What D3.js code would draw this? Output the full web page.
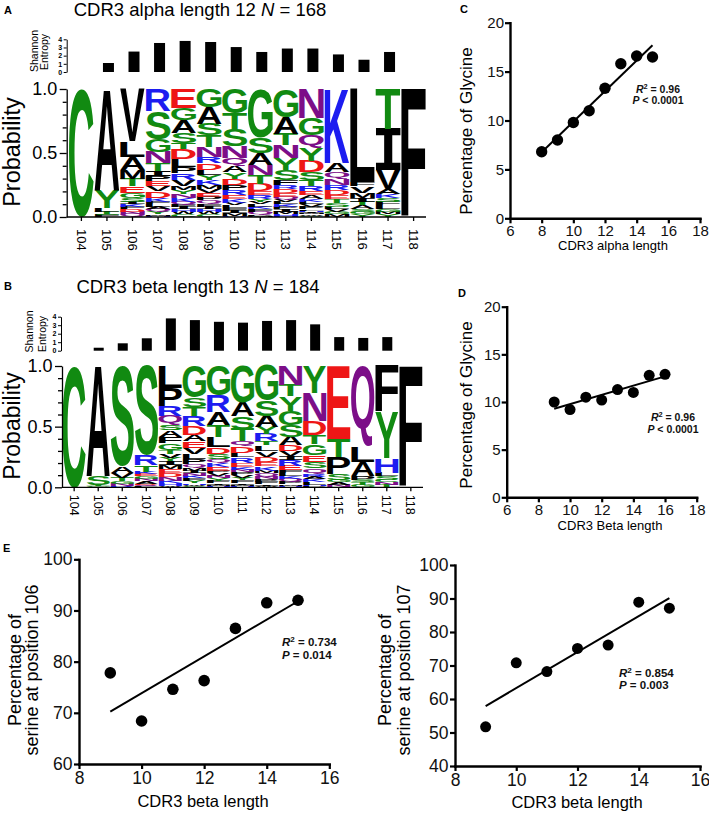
<!DOCTYPE html>
<html><head><meta charset="utf-8">
<script src="https://cdn.jsdelivr.net/npm/d3@7"></script>
<style>
body{margin:0;background:#fff}
svg{display:block}
text{font-family:'Liberation Sans',Arial,Helvetica,sans-serif}
</style>
</head><body>
<svg id="c" width="709" height="813"></svg>
<script>
// ---------------- DATA ----------------
const posA = ["104","105","106","107","108","109","110","112","113","114","115","116","117","118"];
const entropyA = [0, 1.1, 2.5, 3.55, 3.8, 3.67, 3.05, 2.45, 2.87, 2.87, 2.15, 1.5, 2.45, 0];
// letter stacks, listed top -> bottom : [amino acid, probability]
const logoA = [
  [["C",1]],
  [["A",.79],["Y",.14],["L",.03],["T",.015],["S",.01],["F",.015]],
  [["V",.41],["L",.12],["A",.10],["M",.07],["T",.06],["E",.05],["G",.04],["S",.03],["I",.02],["K",.02],["F",.02],["D",.02],["N",.02],["Q",.02]],
  [["R",.17],["S",.22],["G",.10],["N",.09],["T",.06],["I",.04],["P",.04],["E",.04],["V",.04],["D",.05],["K",.03],["F",.02],["L",.02],["A",.02],["Q",.02],["Y",.02],["M",.01],["H",.01]],
  [["E",.15],["G",.09],["A",.10],["S",.08],["T",.05],["D",.08],["L",.06],["P",.05],["R",.05],["V",.05],["M",.03],["Y",.03],["N",.03],["K",.03],["Q",.02],["F",.02],["I",.02],["H",.02],["W",.02],["C",.02]],
  [["G",.14],["A",.13],["S",.09],["T",.09],["N",.08],["R",.05],["D",.05],["L",.04],["Y",.04],["K",.04],["M",.03],["V",.03],["E",.03],["P",.03],["Q",.03],["F",.02],["I",.02],["H",.02],["W",.02],["C",.02]],
  [["G",.19],["T",.13],["S",.13],["N",.09],["Q",.06],["A",.05],["Y",.05],["D",.05],["P",.04],["R",.04],["E",.03],["K",.03],["V",.02],["L",.02],["F",.02],["I",.02],["M",.02],["H",.01]],
  [["G",.38],["S",.12],["A",.09],["N",.08],["T",.07],["D",.06],["E",.03],["R",.03],["Y",.02],["V",.02],["L",.02],["K",.02],["F",.02],["Q",.02],["P",.01],["M",.01]],
  [["G",.22],["A",.13],["T",.09],["N",.10],["Y",.09],["S",.08],["F",.04],["R",.03],["D",.03],["E",.03],["Q",.02],["V",.02],["L",.02],["K",.02],["P",.02],["I",.02],["M",.02],["H",.02]],
  [["N",.23],["G",.13],["Q",.10],["Y",.10],["D",.09],["S",.06],["T",.05],["R",.04],["E",.03],["A",.03],["K",.02],["L",.02],["V",.02],["P",.02],["F",.01],["H",.01],["I",.01],["M",.01],["W",.01],["C",.01]],
  [["K",.58],["A",.07],["Q",.05],["N",.05],["R",.04],["D",.04],["E",.03],["T",.03],["S",.03],["L",.02],["V",.02],["G",.02],["M",.02]],
  [["L",.73],["F",.03],["V",.05],["M",.04],["I",.03],["T",.03],["A",.03],["S",.02],["G",.02],["Y",.02]],
  [["T",.31],["I",.32],["V",.15],["A",.04],["K",.03],["S",.03],["F",.03],["L",.03],["G",.02],["M",.02],["Y",.02]],
  [["F",1]]
];

const posB = ["104","105","106","107","108","109","110","111","112","113","114","115","116","117","118"];
const entropyB = [0, 0.35, 0.87, 1.46, 3.8, 3.6, 3.4, 3.3, 3.5, 3.6, 3.1, 1.6, 1.5, 1.6, 0];
const logoB = [
  [["C",1]],
  [["A",.91],["S",.07],["T",.01],["G",.01]],
  [["S",.83],["A",.05],["V",.04],["T",.03],["G",.02],["N",.02],["R",.01]],
  [["S",.74],["R",.08],["T",.05],["K",.02],["E",.02],["G",.02],["N",.02],["A",.02],["D",.01],["Q",.01],["L",.01]],
  [["L",.17],["P",.14],["R",.08],["Q",.07],["S",.04],["A",.05],["F",.05],["G",.05],["T",.03],["V",.03],["Y",.03],["I",.03],["M",.03],["E",.03],["D",.03],["N",.03],["K",.02],["H",.02],["W",.01]],
  [["G",.25],["S",.07],["T",.07],["R",.08],["D",.07],["A",.05],["E",.05],["V",.05],["L",.04],["P",.04],["Q",.03],["M",.02],["I",.02],["N",.02],["K",.02],["F",.02],["Y",.02],["H",.01],["W",.01],["C",.01]],
  [["G",.23],["R",.13],["A",.10],["T",.09],["L",.08],["D",.05],["S",.04],["Q",.03],["K",.03],["E",.03],["P",.02],["V",.02],["N",.02],["Y",.02],["F",.02],["I",.01],["M",.01],["H",.01]],
  [["G",.27],["A",.10],["S",.09],["T",.09],["Q",.04],["D",.05],["L",.03],["R",.04],["E",.03],["K",.02],["N",.02],["P",.02],["V",.02],["Y",.02],["F",.02],["I",.01],["M",.01],["H",.01]],
  [["G",.25],["S",.11],["A",.08],["Y",.05],["R",.05],["T",.03],["L",.04],["V",.04],["D",.04],["E",.03],["K",.03],["M",.02],["Q",.02],["N",.02],["P",.02],["F",.02],["I",.01],["W",.01]],
  [["N",.13],["T",.08],["Y",.10],["G",.10],["S",.08],["A",.06],["D",.04],["V",.03],["I",.03],["R",.04],["E",.03],["F",.02],["L",.02],["K",.02],["Q",.02],["P",.02],["M",.01],["H",.01]],
  [["Y",.20],["N",.21],["D",.10],["T",.07],["G",.08],["E",.05],["S",.05],["Q",.04],["R",.02],["A",.02],["K",.02],["L",.02],["H",.01],["P",.01]],
  [["E",.60],["T",.15],["P",.14],["S",.05],["G",.02],["A",.02],["N",.02]],
  [["Q",.66],["L",.13],["A",.12],["P",.03],["S",.02],["T",.02],["G",.02]],
  [["F",.38],["Y",.38],["H",.12],["L",.03],["S",.03],["C",.02],["N",.02],["T",.02]],
  [["F",1]]
];

const lenC = [8, 9, 10, 11, 12, 13, 14, 15];
const glyC = [6.8, 8.0, 9.8, 11.0, 13.3, 15.8, 16.6, 16.5];
const lenD = [9, 10, 11, 12, 13, 14, 15, 16];
const glyD = [10.0, 9.2, 10.5, 10.2, 11.3, 11.0, 12.8, 12.9];
const lenE1 = [9, 10, 11, 12, 13, 14, 15];
const serE1 = [77.8, 68.4, 74.6, 76.3, 86.5, 91.5, 92.0];
const lenE2 = [9, 10, 11, 12, 13, 14, 15];
const serE2 = [51.7, 70.8, 68.2, 75.1, 76.1, 88.9, 87.1];

const ticksCDx = [6, 8, 10, 12, 14, 16, 18];
const ticksCDy = [0, 5, 10, 15, 20];
const ticksEx = [8, 10, 12, 14, 16];
const ticksE1y = [60, 70, 80, 90, 100];
const ticksE2y = [40, 50, 60, 70, 80, 90, 100];
const statsC = ["0.96", "<", "0.0001"];
const statsD = ["0.96", "<", "0.0001"];
const statsE1 = ["0.734", "=", "0.014"];
const statsE2 = ["0.854", "=", "0.003"];

// ---------------- DRAWING ----------------
const svg = d3.select('#c');
const COL = {green:'#118a11', blue:'#1c1cf0', red:'#ee1616', purple:'#7c0e88', black:'#000'};
const aaClass = {G:'green',S:'green',T:'green',Y:'green',C:'green',K:'blue',R:'blue',H:'blue',D:'red',E:'red',N:'purple',Q:'purple'};

const mctx = document.createElement('canvas').getContext('2d');
const mcache = {};
function gm(ch, fam) {
  const k = fam + ch;
  if (!mcache[k]) {
    mctx.font = `bold 100px ${fam}`;
    const m = mctx.measureText(ch);
    mcache[k] = {l: m.actualBoundingBoxLeft, r: m.actualBoundingBoxRight, a: m.actualBoundingBoxAscent, d: m.actualBoundingBoxDescent};
  }
  return mcache[k];
}
function drawGlyph(g, ch, x, y, w, h, color) {
  const fam = ch === 'I' ? "'DejaVu Sans Mono'" : "'Liberation Sans'";
  const m = gm(ch, fam);
  const gw = m.l + m.r, gh = m.a + m.d;
  g.append('text').text(ch)
    .style('font-family', fam).style('font-weight', 'bold').style('font-size', '100px')
    .attr('fill', color)
    .attr('transform', `translate(${x},${y}) scale(${w / gw},${h / gh}) translate(${m.l},${m.a})`);
}

function txt(x, y, s, o = {}) {
  const t = svg.append('text').attr('x', x).attr('y', y).text(s)
    .style('font-size', (o.fs || 12) + 'px').attr('fill', o.fill || '#000');
  if (o.bold) t.style('font-weight', 'bold');
  if (o.anchor) t.attr('text-anchor', o.anchor);
  if (o.rot) t.attr('transform', `rotate(${o.rot},${x},${y})`);
  return t;
}

function logoPanel(cfg, positions, entropy, stacks) {
  const g = svg.append('g');
  const x = d3.scaleBand().domain(positions).range(cfg.xRange).paddingInner(cfg.pad);
  const y = d3.scaleLinear().domain([0, 1]).range([cfg.yBot, cfg.yTop]);
  const ye = d3.scaleLinear().domain([0, 4]).range([cfg.eBot, cfg.eTop]);
  const cx = p => x(p) + x.bandwidth() / 2;

  g.selectAll('rect.ent').data(positions).join('rect').attr('class', 'ent')
    .attr('x', p => cx(p) - cfg.barW / 2 + cfg.barOff)
    .attr('y', (p, i) => ye(entropy[i]))
    .attr('width', cfg.barW)
    .attr('height', (p, i) => ye(0) - ye(entropy[i]))
    .attr('fill', '#000');

  const ea = g.append('g').attr('transform', `translate(${cfg.eAxisX},0)`)
    .call(d3.axisLeft(ye).tickValues([0, 1, 2, 3, 4]).tickSize(3).tickPadding(1.5).tickSizeOuter(0).tickFormat(d3.format('d')));
  ea.selectAll('text').style('font-size', '7px').style('font-weight', 'bold');
  ea.selectAll('line,path').attr('stroke-width', 1);

  stacks.forEach((stack, i) => {
    const total = d3.sum(stack, d => d[1]);
    let cum = 0;
    const x0 = x(positions[i]);
    const w = x.bandwidth();
    stack.slice().reverse().forEach(([ch, v]) => {
      const top = y((cum + v) / total), bot = y(cum / total);
      cum += v;
      if (bot - top > 0.3) drawGlyph(g, ch, x0, top, w, bot - top, COL[aaClass[ch] || 'black']);
    });
  });

  const majors = [0, 0.5, 1];
  const ya = g.append('g').attr('transform', `translate(${cfg.axisX},0)`)
    .call(d3.axisLeft(y).tickValues([0, .1, .2, .3, .4, .5, .6, .7, .8, .9, 1]).tickSize(7).tickSizeOuter(0)
      .tickPadding(2.5).tickFormat(d => majors.includes(d) ? d.toFixed(1) : ''));
  ya.selectAll('.tick').filter(d => !majors.includes(d)).select('line').attr('x2', -4);
  ya.selectAll('text').style('font-size', '18px');
  ya.selectAll('line,path').attr('stroke-width', 1.3);

  const xa = g.append('g').attr('transform', `translate(0,${cfg.yBot})`)
    .call(d3.axisBottom(x).tickSize(4).tickSizeOuter(0));
  xa.select('.domain').remove();
  xa.selectAll('.tick text').remove();
  xa.selectAll('line').attr('stroke-width', 1.3);
  g.selectAll('text.xl').data(positions).join('text').attr('class', 'xl')
    .attr('transform', p => `translate(${cx(p)},${cfg.yBot + cfg.lblOff}) rotate(90)`)
    .attr('dy', '0.36em').attr('text-anchor', 'start')
    .style('font-size', cfg.lblFs + 'px').text(p => p);
  g.append('line').attr('x1', cfg.axisX).attr('x2', cfg.xEnd).attr('y1', cfg.yBot).attr('y2', cfg.yBot)
    .attr('stroke', '#000').attr('stroke-width', 1.3);
}

function linfit(xs, ys) {
  const mx = d3.mean(xs), my = d3.mean(ys);
  const b = d3.sum(xs, (v, i) => (v - mx) * (ys[i] - my)) / d3.sum(xs, v => (v - mx) * (v - mx));
  return {a: my - b * mx, b};
}

function scatterPanel(cfg, xs, ys, stats) {
  const g = svg.append('g');
  const x = d3.scaleLinear().domain(cfg.xDom).range(cfg.xRange);
  const y = d3.scaleLinear().domain(cfg.yDom).range(cfg.yRange);
  const xa = g.append('g').attr('transform', `translate(0,${cfg.yRange[0]})`)
    .call(d3.axisBottom(x).tickValues(cfg.xTicks).tickSize(5).tickSizeOuter(0).tickPadding(cfg.xPad));
  const ya = g.append('g').attr('transform', `translate(${cfg.xRange[0]},0)`)
    .call(d3.axisLeft(y).tickValues(cfg.yTicks).tickSize(5).tickSizeOuter(0).tickPadding(cfg.yPad));
  [xa, ya].forEach(a => {
    a.select('.domain').attr('stroke-width', 2.4).attr('stroke-linecap', 'square');
    a.selectAll('.tick line').attr('stroke-width', 2.2);
    a.selectAll('text').style('font-size', cfg.tickFs + 'px').attr('fill', '#111');
  });
  const f = linfit(xs, ys);
  const x1 = d3.min(xs), x2 = d3.max(xs);
  g.append('line').attr('x1', x(x1)).attr('y1', y(f.a + f.b * x1)).attr('x2', x(x2)).attr('y2', y(f.a + f.b * x2))
    .attr('stroke', '#000').attr('stroke-width', 2);
  g.selectAll('circle').data(xs).join('circle')
    .attr('cx', d => x(d)).attr('cy', (d, i) => y(ys[i])).attr('r', cfg.r).attr('fill', '#000');

  const t1 = g.append('text').attr('x', cfg.ax).attr('y', cfg.ay).attr('text-anchor', cfg.aAnchor)
    .style('font-size', cfg.aFs + 'px').style('font-weight', 'bold').attr('fill', '#111');
  t1.append('tspan').style('font-style', 'italic').text('R');
  t1.append('tspan').attr('dy', -cfg.aFs * 0.38).style('font-size', (cfg.aFs * 0.7) + 'px').text('2');
  t1.append('tspan').attr('dy', cfg.aFs * 0.38).text(' = ' + stats[0]);
  const t2 = g.append('text').attr('x', cfg.ax).attr('y', cfg.ay + cfg.aGap).attr('text-anchor', cfg.aAnchor)
    .style('font-size', cfg.aFs + 'px').style('font-weight', 'bold').attr('fill', '#111');
  t2.append('tspan').style('font-style', 'italic').text('P');
  t2.append('tspan').text(' ' + stats[1] + ' ' + stats[2]);
}

// ---- Panel A ----
txt(4, 13.5, 'A', {fs: 11, bold: true});
{
  const t = txt(200, 15.5, 'CDR3 alpha length 12 ', {fs: 18.5, anchor: 'middle'});
  t.append('tspan').style('font-style', 'italic').text('N');
  t.append('tspan').text(' = 168');
}
txt(38, 51, 'Shannon', {fs: 10.5, anchor: 'middle', rot: -90});
txt(47.5, 52, 'Entropy', {fs: 10.5, anchor: 'middle', rot: -90});
txt(20, 152, 'Probability', {fs: 23.5, anchor: 'middle', rot: -90});
logoPanel({xRange: [69, 426], pad: 0.03, yTop: 89, yBot: 217, eTop: 39.3, eBot: 72, eAxisX: 66.7,
  barW: 11, barOff: 1.5, axisX: 66.7, xEnd: 426, lblOff: 12, lblFs: 13}, posA, entropyA, logoA);

// ---- Panel B ----
txt(4, 289.5, 'B', {fs: 11, bold: true});
{
  const t = txt(198, 293, 'CDR3 beta length 13 ', {fs: 18.5, anchor: 'middle'});
  t.append('tspan').style('font-style', 'italic').text('N');
  t.append('tspan').text(' = 184');
}
txt(33, 331.5, 'Shannon', {fs: 10.5, anchor: 'middle', rot: -90});
txt(45.5, 334, 'Entropy', {fs: 10.5, anchor: 'middle', rot: -90});
txt(19.5, 426, 'Probability', {fs: 23, anchor: 'middle', rot: -90});
logoPanel({xRange: [62.5, 422.5], pad: 0.03, yTop: 366, yBot: 487.3, eTop: 316.7, eBot: 350.7, eAxisX: 61,
  barW: 10, barOff: 0.5, axisX: 62, xEnd: 423, lblOff: 7.5, lblFs: 12.5}, posB, entropyB, logoB);

// ---- Panel C ----
txt(460, 13, 'C', {fs: 11, bold: true});
scatterPanel({xDom: [6, 18], xRange: [510, 700], yDom: [0, 20], yRange: [218.3, 22.7],
  xTicks: ticksCDx, yTicks: ticksCDy, tickFs: 15, xPad: 2, yPad: 1, r: 5.7,
  ax: 658, ay: 92.5, aAnchor: 'middle', aFs: 10.5, aGap: 11}, lenC, glyC, statsC);
txt(472.4, 131, 'Percentage of Glycine', {fs: 17, anchor: 'middle', rot: -90});
txt(613, 249.5, 'CDR3 alpha length', {fs: 13, anchor: 'middle'});

// ---- Panel D ----
txt(458, 297, 'D', {fs: 11, bold: true});
scatterPanel({xDom: [6, 18], xRange: [506.7, 696.7], yDom: [0, 20], yRange: [497.3, 306.7],
  xTicks: ticksCDx, yTicks: ticksCDy, tickFs: 15, xPad: 2, yPad: 1, r: 5.5,
  ax: 673, ay: 421, aAnchor: 'middle', aFs: 10.5, aGap: 11.5}, lenD, glyD, statsD);
txt(472.4, 405, 'Percentage of Glycine', {fs: 17, anchor: 'middle', rot: -90});
txt(610, 530, 'CDR3 Beta length', {fs: 13, anchor: 'middle'});

// ---- Panel E (left) ----
txt(3, 552, 'E', {fs: 11, bold: true});
scatterPanel({xDom: [8, 16], xRange: [79, 329.3], yDom: [60, 100], yRange: [764, 559.3],
  xTicks: ticksEx, yTicks: ticksE1y, tickFs: 17.5, xPad: 2.5, yPad: 1.5, r: 5.8,
  ax: 282, ay: 646, aAnchor: 'start', aFs: 11.5, aGap: 12.5}, lenE1, serE1, statsE1);
txt(21, 670, 'Percentage of', {fs: 18, anchor: 'middle', rot: -90});
txt(38, 670, 'serine at position 106', {fs: 18, anchor: 'middle', rot: -90});
txt(203, 806.5, 'CDR3 beta length', {fs: 16.5, anchor: 'middle'});

// ---- Panel E (right) ----
scatterPanel({xDom: [8, 16], xRange: [455, 700], yDom: [40, 100], yRange: [766, 565],
  xTicks: ticksEx, yTicks: ticksE2y, tickFs: 17.5, xPad: 2.5, yPad: 1.5, r: 5.5,
  ax: 619, ay: 677, aAnchor: 'start', aFs: 11.5, aGap: 12}, lenE2, serE2, statsE2);
txt(391.3, 670, 'Percentage of', {fs: 18, anchor: 'middle', rot: -90});
txt(409.5, 670, 'serine at position 107', {fs: 18, anchor: 'middle', rot: -90});
txt(577, 808, 'CDR3 beta length', {fs: 16.5, anchor: 'middle'});
</script>
</body></html>
